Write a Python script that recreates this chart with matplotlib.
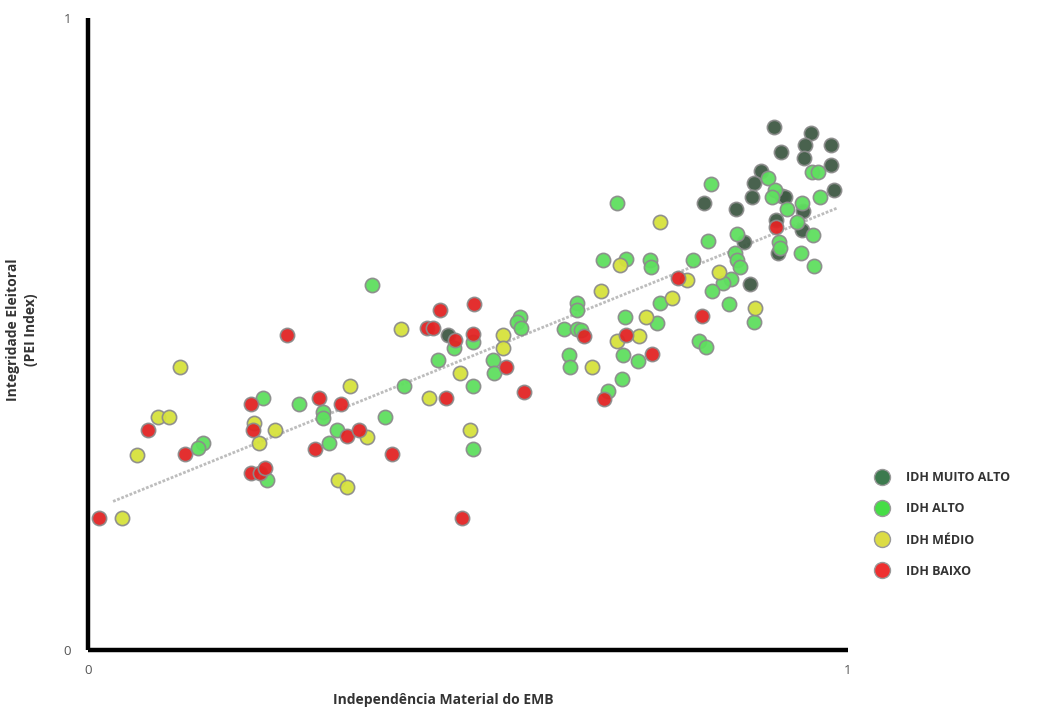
import numpy as np
import matplotlib
matplotlib.use("Agg")
import matplotlib.pyplot as plt
from matplotlib.lines import Line2D

plt.rcParams['font.family'] = ['Open Sans', 'DejaVu Sans']

# ====================
# DATA
# ====================

labels = ['IDH MUITO ALTO', 'IDH ALTO', 'IDH MÉDIO', 'IDH BAIXO']
colors = ['#3f5a44', '#5fdf5f', '#d6e23c', '#e22424']
legend_colors = ['#3c7a4e', '#46dd46', '#dcdc45', '#ee3030']

muito_alto_x = [0.903, 0.951, 0.943, 0.978, 0.912, 0.942, 0.978, 0.886, 0.876, 0.874,
                0.913, 0.917, 0.982, 0.811, 0.853, 0.941, 0.905, 0.939, 0.863, 0.908,
                0.871, 0.474]
muito_alto_y = [0.828, 0.818, 0.799, 0.799, 0.788, 0.778, 0.767, 0.758, 0.739, 0.717,
                0.718, 0.717, 0.728, 0.707, 0.698, 0.695, 0.680, 0.665, 0.646, 0.628,
                0.579, 0.498]

alto_x = [0.953, 0.961, 0.895, 0.820, 0.904, 0.900, 0.963, 0.920, 0.939, 0.933,
          0.954, 0.909, 0.911, 0.938, 0.955, 0.816, 0.854, 0.851, 0.854, 0.858,
          0.796, 0.846, 0.836, 0.821, 0.843, 0.876, 0.804, 0.813, 0.696, 0.753,
          0.678, 0.708, 0.739, 0.741, 0.643, 0.643, 0.707, 0.749, 0.626, 0.643,
          0.649, 0.704, 0.724, 0.633, 0.634, 0.703, 0.684, 0.568, 0.564, 0.570,
          0.533, 0.534, 0.507, 0.482, 0.461, 0.507, 0.507, 0.416, 0.391, 0.374,
          0.230, 0.278, 0.309, 0.309, 0.328, 0.317, 0.236, 0.151, 0.145]
alto_y = [0.756, 0.756, 0.747, 0.737, 0.728, 0.717, 0.717, 0.698, 0.707, 0.677,
          0.657, 0.646, 0.636, 0.628, 0.608, 0.647, 0.658, 0.628, 0.617, 0.606,
          0.617, 0.587, 0.581, 0.568, 0.547, 0.519, 0.489, 0.479, 0.707, 0.549,
          0.617, 0.619, 0.617, 0.606, 0.549, 0.538, 0.527, 0.517, 0.508, 0.508,
          0.506, 0.467, 0.457, 0.467, 0.448, 0.429, 0.410, 0.527, 0.519, 0.509,
          0.459, 0.438, 0.487, 0.478, 0.459, 0.418, 0.318, 0.418, 0.369, 0.578,
          0.399, 0.389, 0.377, 0.367, 0.348, 0.328, 0.269, 0.328, 0.320]

medio_x = [0.753, 0.830, 0.788, 0.878, 0.700, 0.675, 0.768, 0.734, 0.696, 0.725,
           0.663, 0.546, 0.546, 0.412, 0.489, 0.449, 0.503, 0.345, 0.367, 0.329,
           0.341, 0.246, 0.218, 0.225, 0.121, 0.092, 0.107, 0.064, 0.045]
medio_y = [0.677, 0.598, 0.585, 0.541, 0.609, 0.568, 0.557, 0.527, 0.489, 0.497,
           0.448, 0.498, 0.478, 0.508, 0.438, 0.399, 0.348, 0.418, 0.337, 0.269,
           0.258, 0.348, 0.359, 0.328, 0.448, 0.369, 0.369, 0.309, 0.209]

baixo_x = [0.905, 0.776, 0.808, 0.653, 0.708, 0.742, 0.679, 0.550, 0.574, 0.463,
           0.508, 0.446, 0.454, 0.483, 0.507, 0.471, 0.492, 0.400, 0.262, 0.304,
           0.333, 0.341, 0.357, 0.299, 0.214, 0.217, 0.214, 0.226, 0.233, 0.128,
           0.079, 0.014]
baixo_y = [0.669, 0.589, 0.528, 0.497, 0.498, 0.468, 0.397, 0.448, 0.408, 0.538,
           0.547, 0.509, 0.509, 0.491, 0.500, 0.399, 0.209, 0.310, 0.498, 0.399,
           0.389, 0.339, 0.348, 0.318, 0.389, 0.348, 0.280, 0.280, 0.288, 0.310,
           0.348, 0.209]

groups = [(muito_alto_x, muito_alto_y), (alto_x, alto_y),
          (medio_x, medio_y), (baixo_x, baixo_y)]

# ====================
# PLOT
# ====================

fig = plt.figure(figsize=(10.43, 7.11), dpi=100)
ax = fig.add_axes([88 / 1043, 61 / 711, 760 / 1043, 632 / 711])

# linear trend over all countries
all_x = np.concatenate([np.array(g[0]) for g in groups])
all_y = np.concatenate([np.array(g[1]) for g in groups])
slope, intercept = np.polyfit(all_x, all_y, 1)
tx = np.array([0.033, 0.985])
ax.plot(tx, slope * tx + intercept, color='#bdbdbd', linewidth=2.0,
        linestyle=(0, (1, 0.6)), zorder=2)

for (gx, gy), c in zip(groups, colors):
    ax.scatter(gx, gy, s=105, color=c, edgecolors='#8c8c8c', linewidths=1.2,
               alpha=0.95, zorder=3)

ax.set_xlim(0, 1)
ax.set_ylim(0, 1)
ax.set_xticks([0, 1])
ax.set_yticks([0, 1])
ax.set_xticklabels(['0', '1'])
ax.set_yticklabels(['0', '1'])
ax.tick_params(length=0, labelsize=9.5, colors='#555555', pad=10)
ax.tick_params(axis='y', pad=12)

for side in ['top', 'right']:
    ax.spines[side].set_visible(False)
for side in ['left', 'bottom']:
    ax.spines[side].set_linewidth(3.2)
    ax.spines[side].set_color('black')
    ax.spines[side].set_capstyle('butt')

fig.text(443 / 1043, 1 - 700 / 711, 'Independência Material do EMB', fontsize=10,
         fontweight='bold', color='#333333', ha='center', va='center')
fig.text(22 / 1043, 1 - 330 / 711, 'Integridade Eleitoral\n(PEI Index)', fontsize=10,
         fontweight='bold', color='#333333', ha='center', va='center',
         rotation=90, linespacing=1.4, multialignment='center')

handles = [Line2D([0], [0], marker='o', linestyle='none', markersize=11.5,
                  markerfacecolor=c, markeredgecolor='#999999', markeredgewidth=1)
           for c in legend_colors]
leg = fig.legend(handles, labels, loc='upper left',
                 bbox_to_anchor=(868 / 1043, 1 - 465 / 711), frameon=False,
                 labelspacing=1.45, handletextpad=1.3, borderpad=0, handlelength=1.2,
                 prop={'size': 9, 'weight': 'bold'})
for t in leg.get_texts():
    t.set_color('#333333')

fig.savefig('out.png', dpi=100)
